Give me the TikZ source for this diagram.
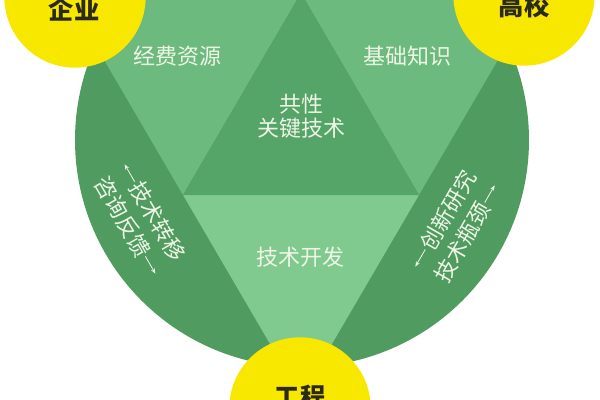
\documentclass[tikz,border=0pt]{standalone}
\usepackage{fontspec}
\setmainfont{Noto Sans CJK SC}
\usetikzlibrary{arrows.meta}
\definecolor{rimgreen}{HTML}{4F9B60}
\definecolor{coregreen}{HTML}{55A468}
\definecolor{wedgegreen}{HTML}{6CBA7D}
\definecolor{basegreen}{HTML}{80CA8F}
\definecolor{hubyellow}{HTML}{F8E800}
\definecolor{hubink}{HTML}{2B2A1A}
\definecolor{paleink}{HTML}{EEF5E6}
\begin{document}
\begin{tikzpicture}[x=0.75pt,y=-0.75pt]
  \tikzstyle{hub}=[circle,fill=hubyellow,minimum size=106pt,inner sep=0pt]
  \tikzstyle{hubword}=[text=hubink,font=\fontsize{19}{21}\selectfont\bfseries,inner sep=0pt]
  \tikzstyle{inword}=[text=paleink,font=\fontsize{16.5}{18}\selectfont,align=center,inner sep=0pt]
  \tikzstyle{sideword}=[text=paleink,font=\fontsize{16.5}{18}\selectfont,inner sep=1pt]
  \tikzstyle{flow}=[draw=paleink,line width=0.6pt,-{Stealth[length=4pt,width=3pt]}]

  \useasboundingbox (0,0) rectangle (600,400);
  \clip (0,0) rectangle (600,400);

  % circle and the triangles inside it
  \fill[rimgreen] (302,140) circle[radius=227];
  \coordinate (A) at (65,-7);
  \coordinate (B) at (537,-7);
  \coordinate (C) at (301,397);
  \coordinate (AB) at (301,-7);
  \coordinate (AC) at (183,195);
  \coordinate (BC) at (419,195);
  \fill[wedgegreen] (A) -- (AB) -- (AC) -- cycle;
  \fill[wedgegreen] (AB) -- (B) -- (BC) -- cycle;
  \fill[basegreen] (AC) -- (BC) -- (C) -- cycle;
  \fill[coregreen] (AB) -- (AC) -- (BC) -- cycle;

  % yellow hubs
  \node[hub] (qiye) at (75,-3) {};
  \node[hub] (gaoxiao) at (524,-5) {};
  \node[hub] (gongcheng) at (300,408) {};
  \node[hubword] (qiyeword) at (74,9) {企业};
  \node[hubword] (gaoxiaoword) at (524,6) {高校};
  \node[hubword] (gongchengword) at (300,397) {工程};

  % inner labels
  \node[inword] (jingfei) at (177,56) {经费资源};
  \node[inword] (jichu) at (407,56) {基础知识};
  \node[inword] (gongxing) at (301,116) {共性\\关键技术};
  \node[inword] (kaifa) at (300,257) {技术开发};

  % side labels with arrows
  \node[sideword,rotate=-60] (zhuanyi) at (157.4,221.1) {技术转移};
  \node[sideword,rotate=-60] (zixun) at (122.6,216.9) {咨询反馈};
  \node[sideword,rotate=60] (chuangxin) at (448.1,209.9) {创新研究};
  \node[sideword,rotate=60] (pingjing) at (461.9,242.1) {技术瓶颈};

  \path (zhuanyi.west) ++(-10,-17.3) coordinate (zhuanyiend);
  \path (zixun.east) ++(10,17.3) coordinate (zixunend);
  \path (chuangxin.west) ++(-10,17.3) coordinate (chuangxinend);
  \path (pingjing.east) ++(10,-17.3) coordinate (pingjingend);
  \path[flow] (zhuanyi.west) -- (zhuanyiend);
  \path[flow] (zixun.east) -- (zixunend);
  \path[flow] (chuangxin.west) -- (chuangxinend);
  \path[flow] (pingjing.east) -- (pingjingend);
\end{tikzpicture}
\end{document}
